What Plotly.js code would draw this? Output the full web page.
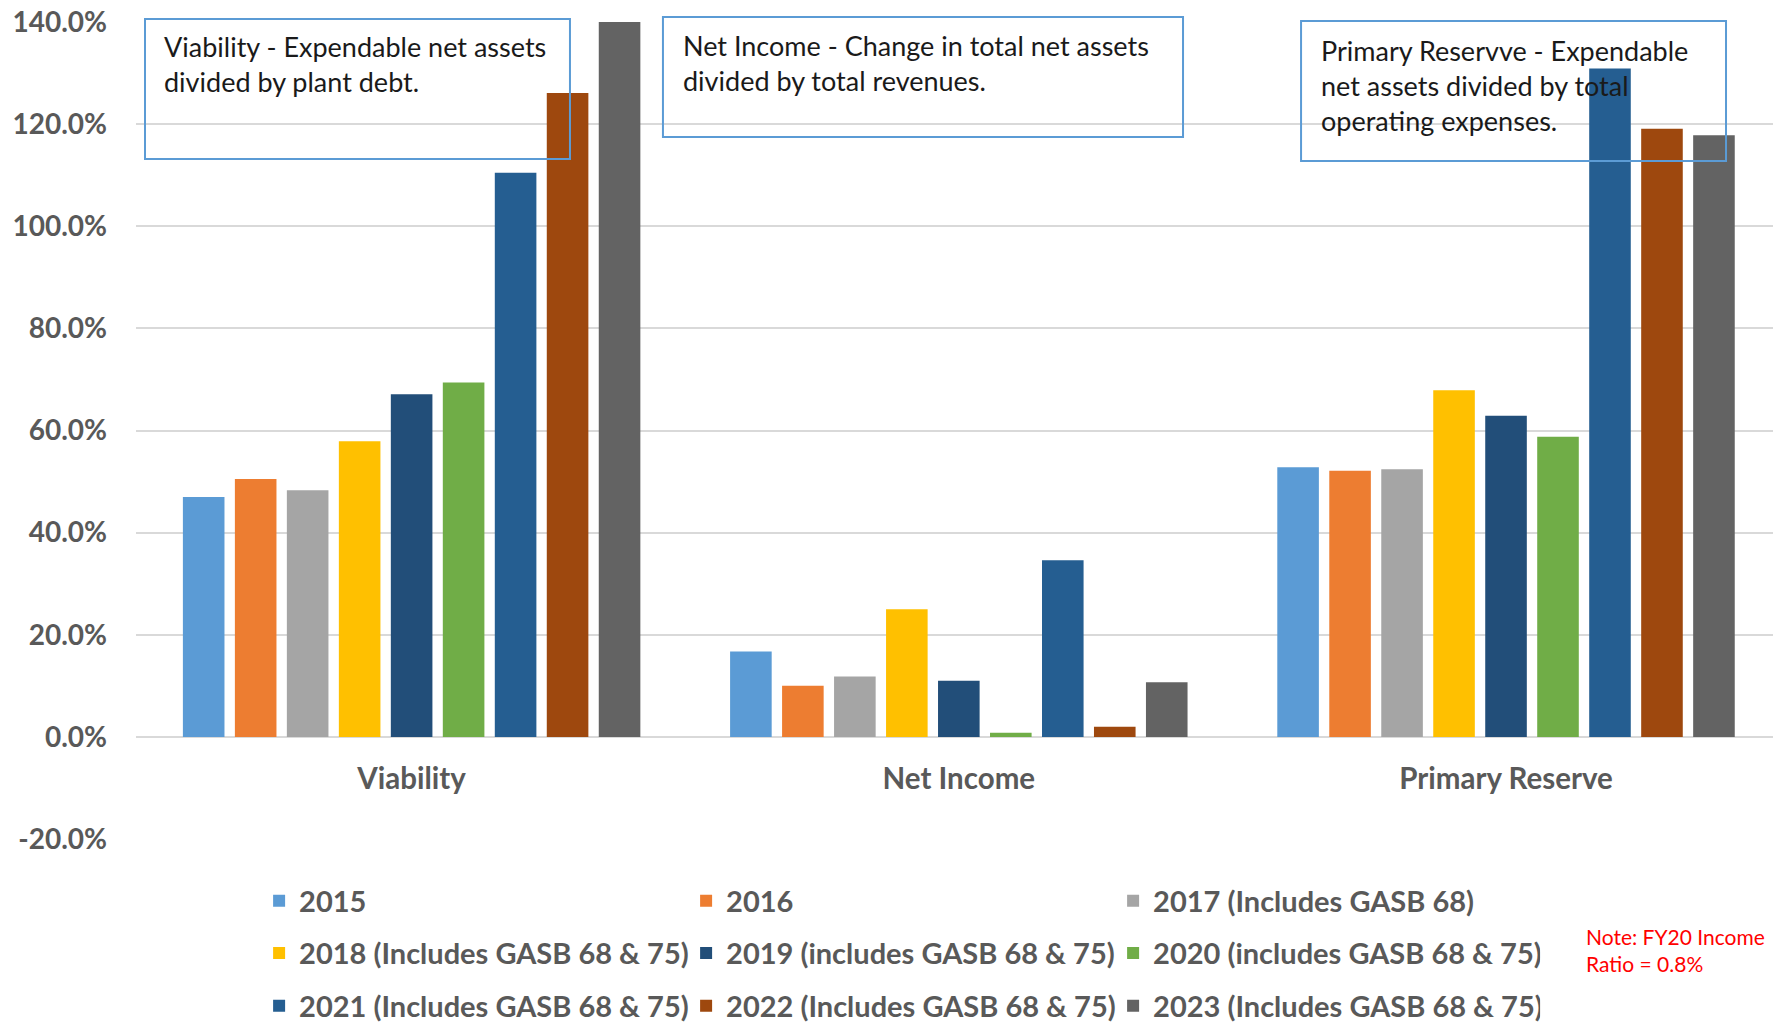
<!DOCTYPE html>
<html>
<head>
<meta charset="utf-8">
<script src="https://cdn.plot.ly/plotly-3.0.1.min.js"></script>
<style>
  html, body { margin: 0; padding: 0; background: #ffffff; }
  #chart { width: 1773px; height: 1023px; }
</style>
</head>
<body>
<div id="chart"></div>
<script>
// Financial ratio categories
const categories = ['Viability', 'Net Income', 'Primary Reserve'];

// Fiscal year series names
const seriesNames = [
  '2015',
  '2016',
  '2017 (Includes GASB 68)',
  '2018 (Includes GASB 68 & 75)',
  '2019 (includes GASB 68 & 75)',
  '2020 (includes GASB 68 & 75)',
  '2021 (Includes GASB 68 & 75)',
  '2022 (Includes GASB 68 & 75)',
  '2023 (Includes GASB 68 & 75)'
];

// Ratio values (%) per fiscal year
const viability      = [47.0, 50.5, 48.3, 57.9, 67.1, 69.4, 110.5, 126.1, 140.0];
const netIncome      = [16.7, 10.0, 11.8, 25.0, 11.0, 0.8, 34.6, 2.0, 10.7];
const primaryReserve = [52.8, 52.1, 52.4, 67.9, 62.9, 58.8, 130.9, 119.1, 117.8];

// Y axis ticks
const yTicks = [-20, 0, 20, 40, 60, 80, 100, 120, 140];
const yTickLabels = yTicks.map(v => v.toFixed(1) + '%');

const seriesColors = ['#5b9bd5', '#ed7d31', '#a5a5a5', '#ffc000', '#224e79',
                      '#70ad47', '#255e91', '#9e480e', '#636363'];

const FONT = 'Lato, "Open Sans", sans-serif';
const legendIds = ['legend', 'legend', 'legend', 'legend2', 'legend2', 'legend2',
                   'legend3', 'legend3', 'legend3'];

const traces = seriesNames.map((name, i) => ({
  type: 'bar',
  name: name,
  x: categories,
  y: [viability[i], netIncome[i], primaryReserve[i]],
  marker: { color: seriesColors[i], line: { width: 0 } },
  legend: legendIds[i],
  hovertemplate: '%{x}: %{y:.1f}%<extra>' + name + '</extra>'
}));

// Three legend rows, three entries each, placed relative to the page
const legendBase = {
  orientation: 'h',
  xanchor: 'left',
  yanchor: 'middle',
  xref: 'paper',
  yref: 'container',
  x: 0.0752,
  entrywidth: 382,
  bgcolor: 'rgba(0,0,0,0)',
  font: { family: FONT, size: 29, color: '#595959', weight: 'bold' },
  traceorder: 'normal'
};

const boxLine = { color: '#5b9bd5', width: 2 };
const boxFont = { family: FONT, size: 27, color: '#1a1a1a' };

const layout = {
  width: 1773,
  height: 1023,
  margin: { l: 136, r: 0, t: 22, b: 184, pad: 0, autoexpand: false },
  paper_bgcolor: '#ffffff',
  plot_bgcolor: '#ffffff',
  font: { family: FONT, color: '#595959' },
  barmode: 'group',
  bargap: 0.145,
  bargroupgap: 0.2,
  showlegend: true,
  xaxis: {
    type: 'category',
    range: [-0.5037, 2.4879],
    anchor: 'free',
    position: 0.125,
    showgrid: false,
    showline: false,
    zeroline: false,
    ticks: '',
    ticklabelstandoff: 22,
    tickfont: { family: FONT, size: 29.5, color: '#595959', weight: 'bold' },
    fixedrange: true
  },
  yaxis: {
    range: [-20, 140],
    tickvals: yTicks,
    ticktext: yTickLabels,
    showgrid: true,
    gridcolor: '#d9d9d9',
    gridwidth: 2,
    zeroline: true,
    zerolinecolor: '#d9d9d9',
    zerolinewidth: 2,
    showline: false,
    ticks: '',
    ticklabelstandoff: 28,
    tickfont: { family: FONT, size: 28, color: '#595959', weight: 'bold' },
    fixedrange: true
  },
  legend:  Object.assign({}, legendBase, { y: 0.1193 }),
  legend2: Object.assign({}, legendBase, { y: 0.0684 }),
  legend3: Object.assign({}, legendBase, { y: 0.0166 }),
  shapes: [
    { type: 'rect', xref: 'paper', yref: 'paper', layer: 'above',
      x0: 0.0055, x1: 0.2651, y0: 0.8323, y1: 1.0037,
      line: boxLine, fillcolor: 'rgba(0,0,0,0)' },
    { type: 'rect', xref: 'paper', yref: 'paper', layer: 'above',
      x0: 0.3219, x1: 0.6396, y0: 0.8592, y1: 1.0061,
      line: boxLine, fillcolor: 'rgba(0,0,0,0)' },
    { type: 'rect', xref: 'paper', yref: 'paper', layer: 'above',
      x0: 0.7117, x1: 0.9713, y0: 0.8299, y1: 1.0012,
      line: boxLine, fillcolor: 'rgba(0,0,0,0)' }
  ],
  annotations: [
    { xref: 'paper', yref: 'paper', x: 0.0158, y: 0.9925,
      xanchor: 'left', yanchor: 'top', align: 'left', showarrow: false,
      text: 'Viability - Expendable net assets<br>divided by plant debt.',
      font: boxFont },
    { xref: 'paper', yref: 'paper', x: 0.3330, y: 0.9937,
      xanchor: 'left', yanchor: 'top', align: 'left', showarrow: false,
      text: 'Net Income - Change in total net assets<br>divided by total revenues.',
      font: boxFont },
    { xref: 'paper', yref: 'paper', x: 0.7227, y: 0.9876,
      xanchor: 'left', yanchor: 'top', align: 'left', showarrow: false,
      text: 'Primary Reservve - Expendable<br>net assets divided by total<br>operating expenses.',
      font: boxFont },
    { xref: 'paper', yref: 'paper', x: 0.8845, y: -0.1016,
      xanchor: 'left', yanchor: 'top', align: 'left', showarrow: false,
      text: 'Note: FY20 Income<br>Ratio = 0.8%',
      font: { family: FONT, size: 21, color: '#ff0000' } }
  ]
};

Plotly.newPlot('chart', traces, layout, { displayModeBar: false, responsive: false });
</script>
</body>
</html>
